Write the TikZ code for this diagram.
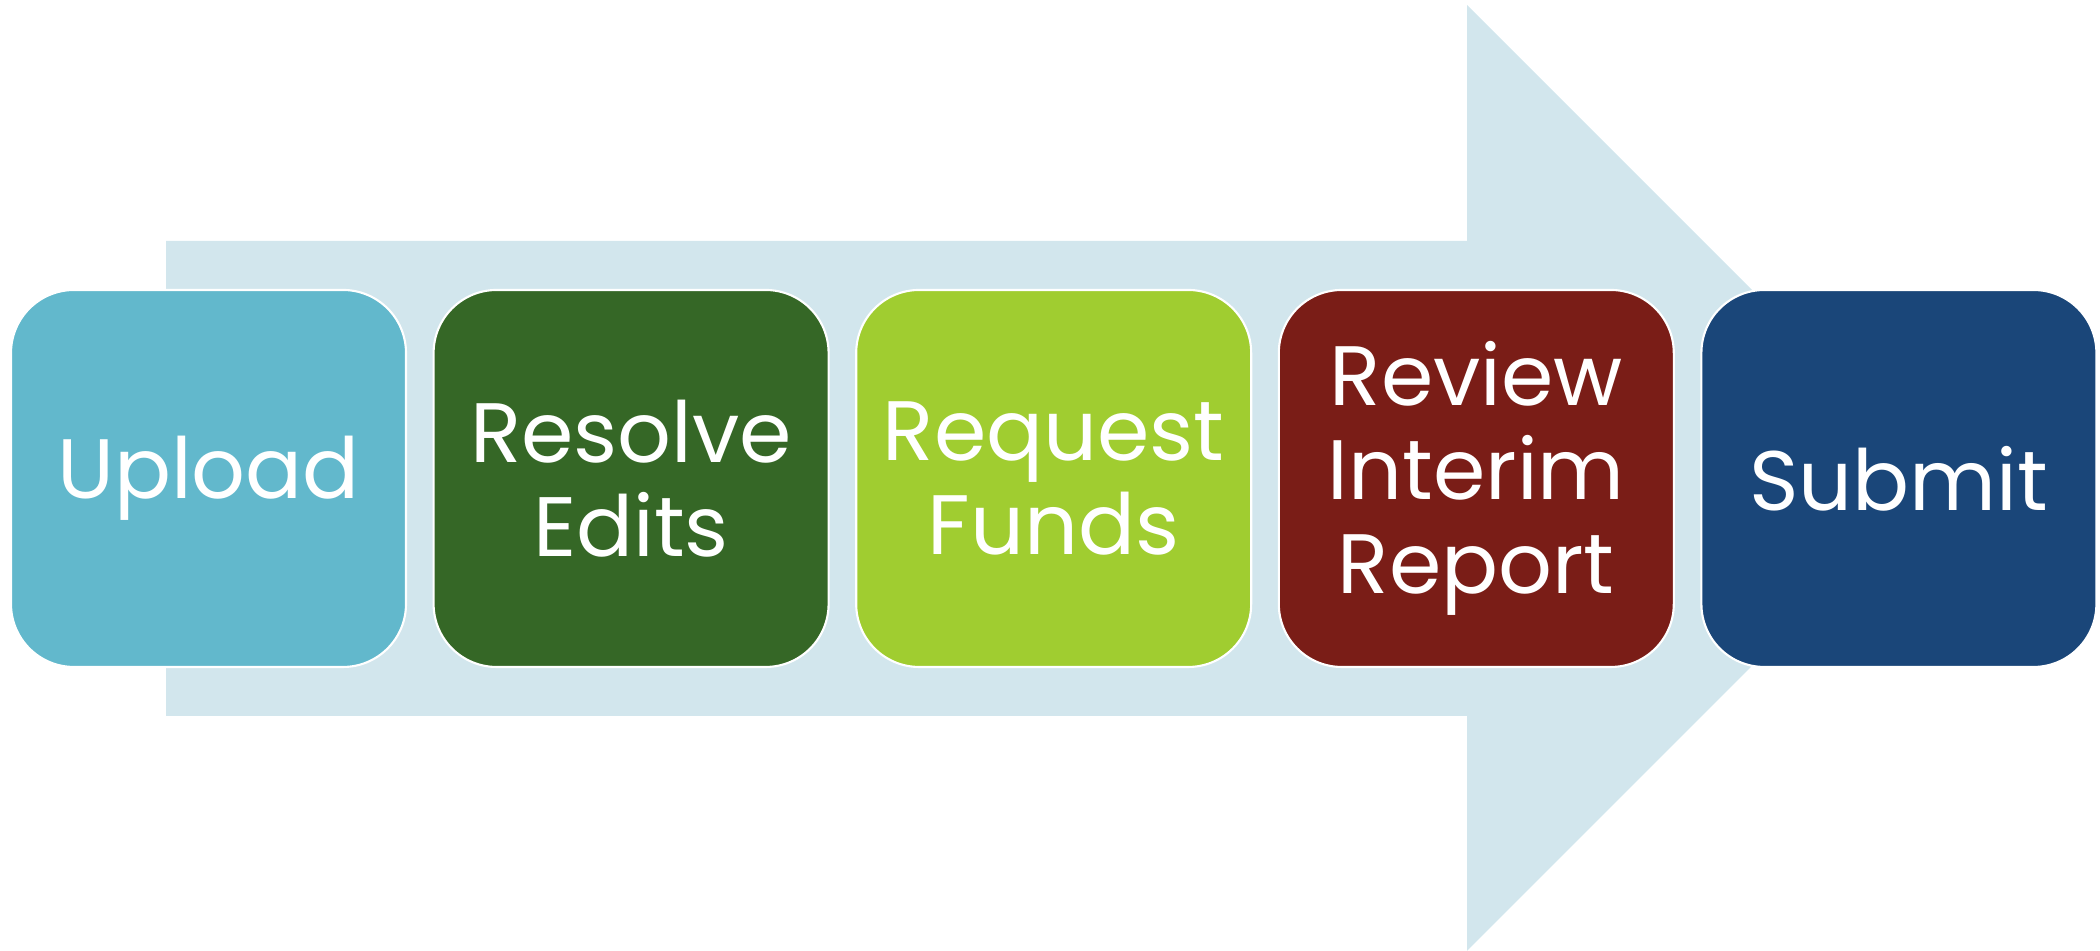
\documentclass[tikz,border=0pt]{standalone}
\usepackage{fontspec}
\setmainfont{Poppins}
\usepackage{tikz}

\definecolor{arrowblue}{HTML}{D2E6ED}
\definecolor{uploadcol}{HTML}{62B8CC}
\definecolor{resolvecol}{HTML}{356726}
\definecolor{requestcol}{HTML}{A0CD30}
\definecolor{reviewcol}{HTML}{7A1D17}
\definecolor{submitcol}{HTML}{1A4679}

\tikzset{
  stagebox/.style={draw=white, line width=0.6pt, rounded corners=0.63cm,
    minimum width=3.95cm, minimum height=3.77cm, inner sep=0pt,
    text=white, align=center, font=\fontsize{24}{26.7}\selectfont}
}

\begin{document}
\begin{tikzpicture}
            \useasboundingbox (0,0) rectangle (21,9.51);
            % big arrow behind the steps
            \fill[arrowblue] (1.66,7.10) -- (14.67,7.10) -- (14.67,9.46) -- (19.40,4.73)
                -- (14.67,0) -- (14.67,2.35) -- (1.66,2.35) -- cycle;
            \node[stagebox, fill=uploadcol] (upload) at (2.085,4.725) {Upload};
            \node[stagebox, fill=resolvecol] (resolve) at (6.311,4.725) {Resolve\\Edits};
            \node[stagebox, fill=requestcol] (request) at (10.537,4.725) {Request\\Funds};
            \node[stagebox, fill=reviewcol] (review) at (14.763,4.725) {Review\\Interim\\Report};
            \node[stagebox, fill=submitcol] (submit) at (18.989,4.725) {Submit};
        \end{tikzpicture}
\end{document}
